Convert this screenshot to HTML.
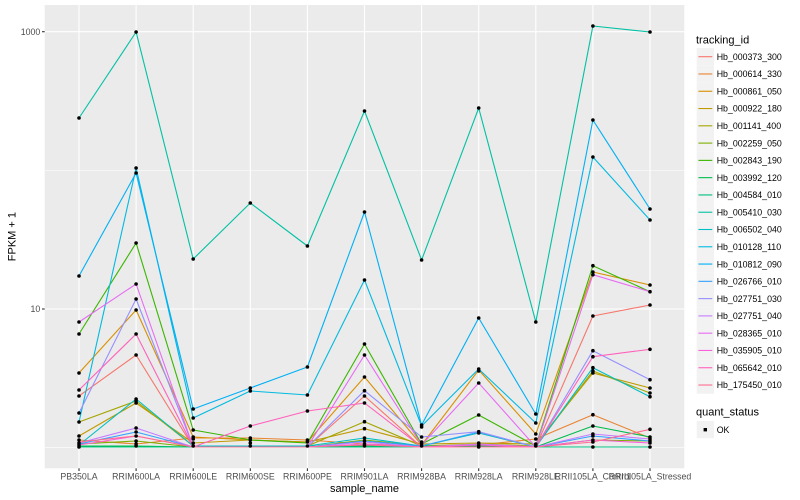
<!DOCTYPE html>
<html><head><meta charset="utf-8"><style>
html,body{margin:0;padding:0;background:#fff;}
svg{display:block;}
text{font-family:"Liberation Sans",Arial,sans-serif;}
</style></head><body>
<svg width="800" height="500" viewBox="0 0 800 500" xmlns="http://www.w3.org/2000/svg">
<rect x="0" y="0" width="800" height="500" fill="#fff"/>
<rect x="44.7" y="5" width="639.6" height="463.3" fill="#EBEBEB"/>
<!-- minor grid -->
<g stroke="#fff" stroke-width="0.55">
<line x1="44.7" x2="684.3" y1="170.4" y2="170.4"/>
<line x1="44.7" x2="684.3" y1="447.7" y2="447.7"/>
</g>
<!-- major grid -->
<g stroke="#fff" stroke-width="1.1">
<line x1="44.7" x2="684.3" y1="31.7" y2="31.7"/>
<line x1="44.7" x2="684.3" y1="309" y2="309"/>
<line x1="79" x2="79" y1="5" y2="468.3"/>
<line x1="136.1" x2="136.1" y1="5" y2="468.3"/>
<line x1="193.2" x2="193.2" y1="5" y2="468.3"/>
<line x1="250.3" x2="250.3" y1="5" y2="468.3"/>
<line x1="307.4" x2="307.4" y1="5" y2="468.3"/>
<line x1="364.5" x2="364.5" y1="5" y2="468.3"/>
<line x1="421.6" x2="421.6" y1="5" y2="468.3"/>
<line x1="478.7" x2="478.7" y1="5" y2="468.3"/>
<line x1="535.8" x2="535.8" y1="5" y2="468.3"/>
<line x1="592.9" x2="592.9" y1="5" y2="468.3"/>
<line x1="650" x2="650" y1="5" y2="468.3"/>
</g>
<!-- series -->
<g fill="none" stroke-width="1.1" stroke-linejoin="round">
<polyline stroke="#F8766D" points="79,396 136.1,355 193.2,447 250.3,447 307.4,447 364.5,396 421.6,447 478.7,446 535.8,447 592.9,316 650,305"/>
<polyline stroke="#EA8331" points="79,440 136.1,444 193.2,438 250.3,438 307.4,440 364.5,444 421.6,446 478.7,445 535.8,439 592.9,414.7 650,438"/>
<polyline stroke="#D89000" points="79,373 136.1,310 193.2,437 250.3,440 307.4,442 364.5,377 421.6,445 478.7,370 535.8,434 592.9,272 650,285"/>
<polyline stroke="#C09B00" points="79,436 136.1,403 193.2,443 250.3,440 307.4,442 364.5,428.7 421.6,444 478.7,443 535.8,444 592.9,373 650,388"/>
<polyline stroke="#A3A500" points="79,422 136.1,401 193.2,446 250.3,446 307.4,446 364.5,421.7 421.6,446 478.7,444 535.8,446 592.9,371 650,393"/>
<polyline stroke="#7CAE00" points="79,444 136.1,441 193.2,447 250.3,447 307.4,447 364.5,440 421.6,446 478.7,446 535.8,447 592.9,440 650,441"/>
<polyline stroke="#39B600" points="79,334 136.1,243 193.2,430 250.3,440 307.4,443 364.5,344 421.6,444 478.7,415 535.8,446 592.9,265.7 650,291.7"/>
<polyline stroke="#00BB4E" points="79,446 136.1,446 193.2,447 250.3,446 307.4,446 364.5,446 421.6,446 478.7,446 535.8,447 592.9,426 650,437"/>
<polyline stroke="#00BF7D" points="79,447 136.1,447 193.2,447 250.3,447 307.4,447 364.5,447 421.6,447 478.7,447 535.8,447 592.9,447 650,447"/>
<polyline stroke="#00C1A3" points="79,118 136.1,32 193.2,259 250.3,203 307.4,246 364.5,111 421.6,260 478.7,108 535.8,322 592.9,26 650,32"/>
<polyline stroke="#00BFC4" points="79,445 136.1,399 193.2,446 250.3,446 307.4,446 364.5,438 421.6,446 478.7,433 535.8,447 592.9,367.7 650,396.7"/>
<polyline stroke="#00BAE0" points="79,422 136.1,168 193.2,418 250.3,391 307.4,395 364.5,280 421.6,426 478.7,369 535.8,423 592.9,157 650,220"/>
<polyline stroke="#00B0F6" points="79,276 136.1,173 193.2,409 250.3,388 307.4,367 364.5,212 421.6,425 478.7,318 535.8,414 592.9,120 650,209"/>
<polyline stroke="#35A2FF" points="79,444 136.1,432 193.2,447 250.3,447 307.4,447 364.5,441 421.6,446 478.7,432 535.8,447 592.9,436 650,441"/>
<polyline stroke="#9590FF" points="79,413 136.1,299 193.2,447 250.3,447 307.4,447 364.5,390.7 421.6,437 478.7,431.7 535.8,447 592.9,350.7 650,379.7"/>
<polyline stroke="#C77CFF" points="79,443 136.1,428 193.2,447 250.3,447 307.4,447 364.5,442 421.6,447 478.7,444 535.8,447 592.9,434 650,439"/>
<polyline stroke="#E76BF3" points="79,322 136.1,284 193.2,447 250.3,447 307.4,447 364.5,355 421.6,445 478.7,383 535.8,447 592.9,274.7 650,291.7"/>
<polyline stroke="#FA62DB" points="79,445 136.1,436 193.2,447 250.3,447 307.4,447 364.5,444 421.6,447 478.7,445 535.8,447 592.9,440 650,443"/>
<polyline stroke="#FF62BC" points="79,390 136.1,334 193.2,447 250.3,426 307.4,411 364.5,403 421.6,447 478.7,447 535.8,447 592.9,356.7 650,349.3"/>
<polyline stroke="#FF6C90" points="79,442 136.1,436 193.2,447 250.3,447 307.4,447 364.5,445 421.6,447 478.7,447 535.8,447 592.9,442 650,429.3"/>
</g>
<!-- points -->
<g fill="#000">
<circle cx="79" cy="118" r="1.8"/><circle cx="79" cy="276" r="1.8"/><circle cx="79" cy="322" r="1.8"/><circle cx="79" cy="334" r="1.8"/><circle cx="79" cy="373" r="1.8"/><circle cx="79" cy="390" r="1.8"/><circle cx="79" cy="396" r="1.8"/><circle cx="79" cy="413" r="1.8"/><circle cx="79" cy="422" r="1.8"/><circle cx="79" cy="436" r="1.8"/><circle cx="79" cy="440" r="1.8"/><circle cx="79" cy="443" r="1.8"/><circle cx="79" cy="445" r="1.8"/><circle cx="79" cy="447" r="1.8"/>
<circle cx="136.1" cy="32" r="1.8"/><circle cx="136.1" cy="168" r="1.8"/><circle cx="136.1" cy="173" r="1.8"/><circle cx="136.1" cy="243" r="1.8"/><circle cx="136.1" cy="284" r="1.8"/><circle cx="136.1" cy="299" r="1.8"/><circle cx="136.1" cy="310" r="1.8"/><circle cx="136.1" cy="334" r="1.8"/><circle cx="136.1" cy="355" r="1.8"/><circle cx="136.1" cy="399" r="1.8"/><circle cx="136.1" cy="401" r="1.8"/><circle cx="136.1" cy="403" r="1.8"/><circle cx="136.1" cy="428" r="1.8"/><circle cx="136.1" cy="432" r="1.8"/><circle cx="136.1" cy="436" r="1.8"/><circle cx="136.1" cy="441" r="1.8"/><circle cx="136.1" cy="444" r="1.8"/><circle cx="136.1" cy="446" r="1.8"/>
<circle cx="193.2" cy="259" r="1.8"/><circle cx="193.2" cy="409" r="1.8"/><circle cx="193.2" cy="418" r="1.8"/><circle cx="193.2" cy="430" r="1.8"/><circle cx="193.2" cy="437" r="1.8"/><circle cx="193.2" cy="439" r="1.8"/><circle cx="193.2" cy="443" r="1.8"/><circle cx="193.2" cy="446" r="1.8"/>
<circle cx="250.3" cy="203" r="1.8"/><circle cx="250.3" cy="388" r="1.8"/><circle cx="250.3" cy="391" r="1.8"/><circle cx="250.3" cy="426" r="1.8"/><circle cx="250.3" cy="438" r="1.8"/><circle cx="250.3" cy="440" r="1.8"/><circle cx="250.3" cy="443" r="1.8"/><circle cx="250.3" cy="446" r="1.8"/>
<circle cx="307.4" cy="246" r="1.8"/><circle cx="307.4" cy="367" r="1.8"/><circle cx="307.4" cy="395" r="1.8"/><circle cx="307.4" cy="411" r="1.8"/><circle cx="307.4" cy="440" r="1.8"/><circle cx="307.4" cy="442" r="1.8"/><circle cx="307.4" cy="446" r="1.8"/>
<circle cx="364.5" cy="111" r="1.8"/><circle cx="364.5" cy="212" r="1.8"/><circle cx="364.5" cy="280" r="1.8"/><circle cx="364.5" cy="344" r="1.8"/><circle cx="364.5" cy="355" r="1.8"/><circle cx="364.5" cy="377" r="1.8"/><circle cx="364.5" cy="390.7" r="1.8"/><circle cx="364.5" cy="396" r="1.8"/><circle cx="364.5" cy="403" r="1.8"/><circle cx="364.5" cy="421.7" r="1.8"/><circle cx="364.5" cy="428.7" r="1.8"/><circle cx="364.5" cy="438" r="1.8"/><circle cx="364.5" cy="441" r="1.8"/><circle cx="364.5" cy="444" r="1.8"/><circle cx="364.5" cy="446" r="1.8"/>
<circle cx="421.6" cy="260" r="1.8"/><circle cx="421.6" cy="425" r="1.8"/><circle cx="421.6" cy="427" r="1.8"/><circle cx="421.6" cy="437" r="1.8"/><circle cx="421.6" cy="442" r="1.8"/><circle cx="421.6" cy="444" r="1.8"/><circle cx="421.6" cy="446" r="1.8"/>
<circle cx="478.7" cy="108" r="1.8"/><circle cx="478.7" cy="318" r="1.8"/><circle cx="478.7" cy="369" r="1.8"/><circle cx="478.7" cy="371" r="1.8"/><circle cx="478.7" cy="383" r="1.8"/><circle cx="478.7" cy="415" r="1.8"/><circle cx="478.7" cy="431.7" r="1.8"/><circle cx="478.7" cy="433" r="1.8"/><circle cx="478.7" cy="443" r="1.8"/><circle cx="478.7" cy="445" r="1.8"/><circle cx="478.7" cy="447" r="1.8"/>
<circle cx="535.8" cy="322" r="1.8"/><circle cx="535.8" cy="414" r="1.8"/><circle cx="535.8" cy="423" r="1.8"/><circle cx="535.8" cy="434" r="1.8"/><circle cx="535.8" cy="439" r="1.8"/><circle cx="535.8" cy="444" r="1.8"/><circle cx="535.8" cy="446" r="1.8"/>
<circle cx="592.9" cy="26" r="1.8"/><circle cx="592.9" cy="120" r="1.8"/><circle cx="592.9" cy="157" r="1.8"/><circle cx="592.9" cy="265.7" r="1.8"/><circle cx="592.9" cy="272" r="1.8"/><circle cx="592.9" cy="274.7" r="1.8"/><circle cx="592.9" cy="316" r="1.8"/><circle cx="592.9" cy="350.7" r="1.8"/><circle cx="592.9" cy="356.7" r="1.8"/><circle cx="592.9" cy="367.7" r="1.8"/><circle cx="592.9" cy="371" r="1.8"/><circle cx="592.9" cy="373" r="1.8"/><circle cx="592.9" cy="414.7" r="1.8"/><circle cx="592.9" cy="426" r="1.8"/><circle cx="592.9" cy="434" r="1.8"/><circle cx="592.9" cy="436" r="1.8"/><circle cx="592.9" cy="440" r="1.8"/><circle cx="592.9" cy="442" r="1.8"/><circle cx="592.9" cy="447" r="1.8"/>
<circle cx="650" cy="32" r="1.8"/><circle cx="650" cy="209" r="1.8"/><circle cx="650" cy="220" r="1.8"/><circle cx="650" cy="285" r="1.8"/><circle cx="650" cy="291.7" r="1.8"/><circle cx="650" cy="305" r="1.8"/><circle cx="650" cy="349.3" r="1.8"/><circle cx="650" cy="379.7" r="1.8"/><circle cx="650" cy="388" r="1.8"/><circle cx="650" cy="393" r="1.8"/><circle cx="650" cy="396.7" r="1.8"/><circle cx="650" cy="429.3" r="1.8"/><circle cx="650" cy="437" r="1.8"/><circle cx="650" cy="439" r="1.8"/><circle cx="650" cy="441" r="1.8"/><circle cx="650" cy="443" r="1.8"/><circle cx="650" cy="447" r="1.8"/>
</g>
<!-- axes ticks -->
<g stroke="#333" stroke-width="1.1">
<line x1="42" x2="44.7" y1="31.7" y2="31.7"/>
<line x1="42" x2="44.7" y1="309" y2="309"/>
<line x1="79" x2="79" y1="468.3" y2="471"/>
<line x1="136.1" x2="136.1" y1="468.3" y2="471"/>
<line x1="193.2" x2="193.2" y1="468.3" y2="471"/>
<line x1="250.3" x2="250.3" y1="468.3" y2="471"/>
<line x1="307.4" x2="307.4" y1="468.3" y2="471"/>
<line x1="364.5" x2="364.5" y1="468.3" y2="471"/>
<line x1="421.6" x2="421.6" y1="468.3" y2="471"/>
<line x1="478.7" x2="478.7" y1="468.3" y2="471"/>
<line x1="535.8" x2="535.8" y1="468.3" y2="471"/>
<line x1="592.9" x2="592.9" y1="468.3" y2="471"/>
<line x1="650" x2="650" y1="468.3" y2="471"/>
</g>
<g font-size="8.8" fill="#4D4D4D">
<text x="40.3" y="34.9" text-anchor="end">1000</text>
<text x="40.3" y="312.2" text-anchor="end">10</text>
</g>
<g font-size="8.8" fill="#4D4D4D" text-anchor="middle">
<text x="79" y="479.6">PB350LA</text>
<text x="136.1" y="479.6">RRIM600LA</text>
<text x="193.2" y="479.6">RRIM600LE</text>
<text x="250.3" y="479.6">RRIM600SE</text>
<text x="307.4" y="479.6">RRIM600PE</text>
<text x="364.5" y="479.6">RRIM901LA</text>
<text x="421.6" y="479.6">RRIM928BA</text>
<text x="478.7" y="479.6">RRIM928LA</text>
<text x="535.8" y="479.6">RRIM928LE</text>
<text x="592.9" y="479.6">RRII105LA_Control</text>
<text x="650" y="479.6">RRII105LA_Stressed</text>
</g>
<text x="364.5" y="492" font-size="11" fill="#000" text-anchor="middle">sample_name</text>
<text x="0" y="0" font-size="11" fill="#000" text-anchor="middle" transform="translate(15.3,236.6) rotate(-90)">FPKM + 1</text>
<!-- legend -->
<text x="696" y="43.5" font-size="11" fill="#000">tracking_id</text>
<g>
<rect x="696.7" y="48.06" width="17.28" height="17.28" fill="#F2F2F2"/>
<rect x="696.7" y="65.34" width="17.28" height="17.28" fill="#F2F2F2"/>
<rect x="696.7" y="82.62" width="17.28" height="17.28" fill="#F2F2F2"/>
<rect x="696.7" y="99.9" width="17.28" height="17.28" fill="#F2F2F2"/>
<rect x="696.7" y="117.18" width="17.28" height="17.28" fill="#F2F2F2"/>
<rect x="696.7" y="134.46" width="17.28" height="17.28" fill="#F2F2F2"/>
<rect x="696.7" y="151.74" width="17.28" height="17.28" fill="#F2F2F2"/>
<rect x="696.7" y="169.02" width="17.28" height="17.28" fill="#F2F2F2"/>
<rect x="696.7" y="186.3" width="17.28" height="17.28" fill="#F2F2F2"/>
<rect x="696.7" y="203.58" width="17.28" height="17.28" fill="#F2F2F2"/>
<rect x="696.7" y="220.86" width="17.28" height="17.28" fill="#F2F2F2"/>
<rect x="696.7" y="238.14" width="17.28" height="17.28" fill="#F2F2F2"/>
<rect x="696.7" y="255.42" width="17.28" height="17.28" fill="#F2F2F2"/>
<rect x="696.7" y="272.7" width="17.28" height="17.28" fill="#F2F2F2"/>
<rect x="696.7" y="289.98" width="17.28" height="17.28" fill="#F2F2F2"/>
<rect x="696.7" y="307.26" width="17.28" height="17.28" fill="#F2F2F2"/>
<rect x="696.7" y="324.54" width="17.28" height="17.28" fill="#F2F2F2"/>
<rect x="696.7" y="341.82" width="17.28" height="17.28" fill="#F2F2F2"/>
<rect x="696.7" y="359.1" width="17.28" height="17.28" fill="#F2F2F2"/>
<rect x="696.7" y="376.38" width="17.28" height="17.28" fill="#F2F2F2"/>
</g>
<g stroke-width="1.1">
<line x1="698.4" x2="712.3" y1="56.7" y2="56.7" stroke="#F8766D"/>
<line x1="698.4" x2="712.3" y1="73.98" y2="73.98" stroke="#EA8331"/>
<line x1="698.4" x2="712.3" y1="91.26" y2="91.26" stroke="#D89000"/>
<line x1="698.4" x2="712.3" y1="108.54" y2="108.54" stroke="#C09B00"/>
<line x1="698.4" x2="712.3" y1="125.82" y2="125.82" stroke="#A3A500"/>
<line x1="698.4" x2="712.3" y1="143.1" y2="143.1" stroke="#7CAE00"/>
<line x1="698.4" x2="712.3" y1="160.38" y2="160.38" stroke="#39B600"/>
<line x1="698.4" x2="712.3" y1="177.66" y2="177.66" stroke="#00BB4E"/>
<line x1="698.4" x2="712.3" y1="194.94" y2="194.94" stroke="#00BF7D"/>
<line x1="698.4" x2="712.3" y1="212.22" y2="212.22" stroke="#00C1A3"/>
<line x1="698.4" x2="712.3" y1="229.5" y2="229.5" stroke="#00BFC4"/>
<line x1="698.4" x2="712.3" y1="246.78" y2="246.78" stroke="#00BAE0"/>
<line x1="698.4" x2="712.3" y1="264.06" y2="264.06" stroke="#00B0F6"/>
<line x1="698.4" x2="712.3" y1="281.34" y2="281.34" stroke="#35A2FF"/>
<line x1="698.4" x2="712.3" y1="298.62" y2="298.62" stroke="#9590FF"/>
<line x1="698.4" x2="712.3" y1="315.9" y2="315.9" stroke="#C77CFF"/>
<line x1="698.4" x2="712.3" y1="333.18" y2="333.18" stroke="#E76BF3"/>
<line x1="698.4" x2="712.3" y1="350.46" y2="350.46" stroke="#FA62DB"/>
<line x1="698.4" x2="712.3" y1="367.74" y2="367.74" stroke="#FF62BC"/>
<line x1="698.4" x2="712.3" y1="385.02" y2="385.02" stroke="#FF6C90"/>
</g>
<g font-size="8.8" fill="#000">
<text x="716.7" y="59.9">Hb_000373_300</text>
<text x="716.7" y="77.18">Hb_000614_330</text>
<text x="716.7" y="94.46">Hb_000861_050</text>
<text x="716.7" y="111.74">Hb_000922_180</text>
<text x="716.7" y="129.02">Hb_001141_400</text>
<text x="716.7" y="146.3">Hb_002259_050</text>
<text x="716.7" y="163.58">Hb_002843_190</text>
<text x="716.7" y="180.86">Hb_003992_120</text>
<text x="716.7" y="198.14">Hb_004584_010</text>
<text x="716.7" y="215.42">Hb_005410_030</text>
<text x="716.7" y="232.7">Hb_006502_040</text>
<text x="716.7" y="249.98">Hb_010128_110</text>
<text x="716.7" y="267.26">Hb_010812_090</text>
<text x="716.7" y="284.54">Hb_026766_010</text>
<text x="716.7" y="301.82">Hb_027751_030</text>
<text x="716.7" y="319.1">Hb_027751_040</text>
<text x="716.7" y="336.38">Hb_028365_010</text>
<text x="716.7" y="353.66">Hb_035905_010</text>
<text x="716.7" y="370.94">Hb_065642_010</text>
<text x="716.7" y="388.22">Hb_175450_010</text>
</g>
<text x="696" y="415.5" font-size="11" fill="#000">quant_status</text>
<rect x="696.7" y="421" width="17.28" height="17.28" fill="#F2F2F2"/>
<rect x="703.6" y="428" width="3.4" height="3.4" fill="#000"/>
<text x="716.7" y="432.8" font-size="8.8" fill="#000">OK</text>
</svg>
</body></html>
